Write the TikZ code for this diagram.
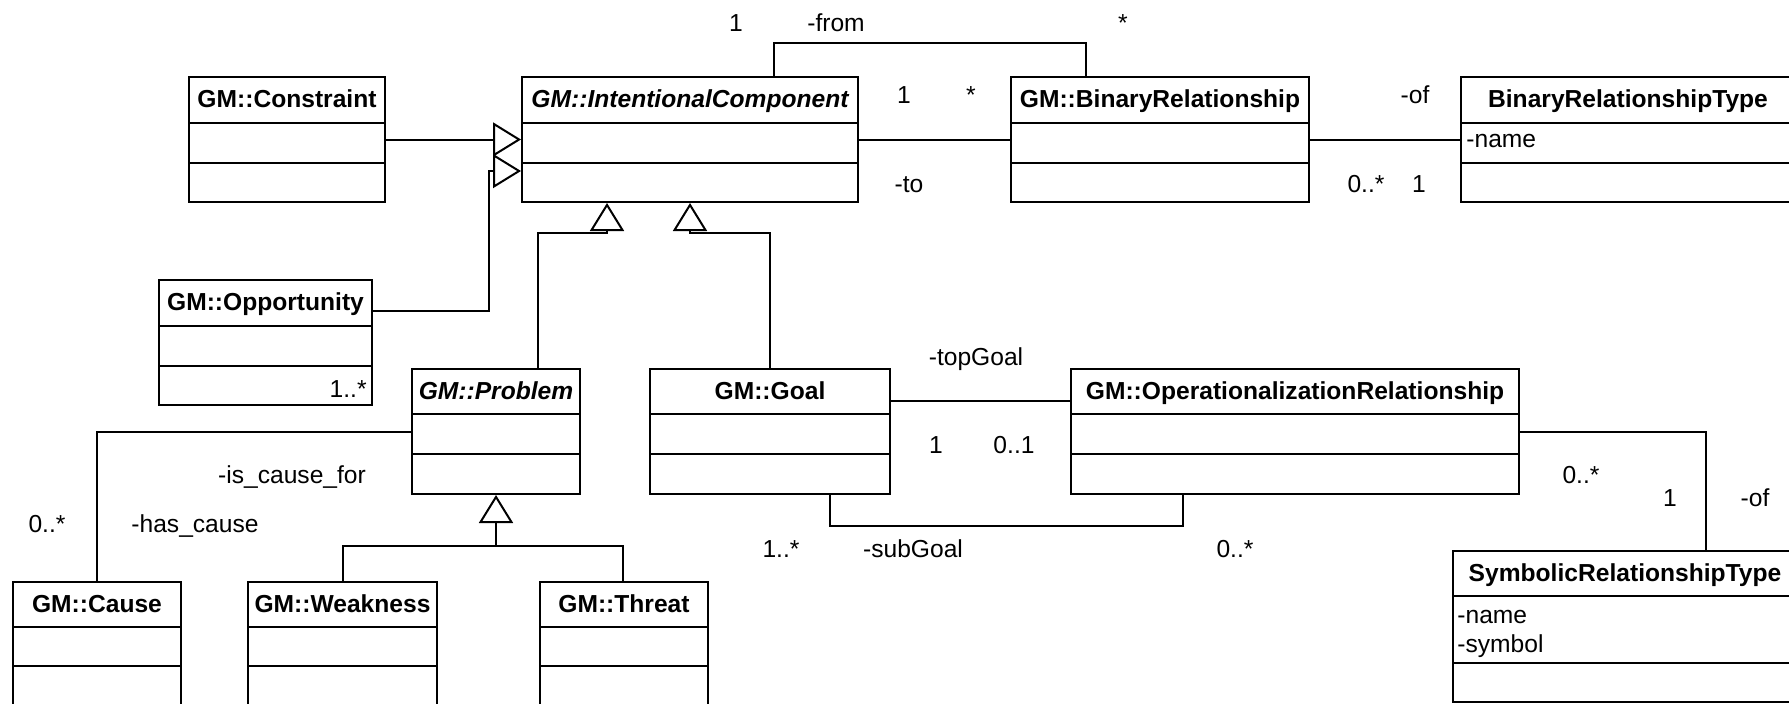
\documentclass[tikz,border=0pt]{standalone}
\usepackage{fontspec}
\setmainfont{Liberation Sans}
\usetikzlibrary{arrows.meta,fit}
\tikzset{
  umlline/.style={line width=1pt},
  gen/.style={umlline, -{Triangle[open,length=14pt,width=17pt,line join=miter]}},
  ctitle/.style={anchor=base, inner sep=0pt, font=\fontsize{12.3}{14}\selectfont\bfseries},
  atitle/.style={anchor=base, inner sep=0pt, font=\fontsize{12.3}{14}\selectfont\bfseries\itshape},
  lbl/.style={anchor=base, inner sep=0pt, font=\fontsize{12.3}{14}\selectfont},
  attr/.style={anchor=base west, inner sep=0pt, font=\fontsize{12.3}{14}\selectfont},
}
% #1 name, #2 title style, #3 x1, #4 y1, #5 x2, #6 header bottom, #7 attr bottom, #8 y2, #9 title
\newcommand\umlclass[9]{%
  \node[fit={(#3,#4) (#5,#8)}, inner sep=0pt, draw, umlline] (#1) {};
  \draw[umlline] (#3,#6) -- (#5,#6) (#3,#7) -- (#5,#7);
  \node[#2] (#1-t) at ({(#3+#5)/2},{#4+30}) {#9};
}
\begin{document}
\begin{tikzpicture}[x=0.5pt,y=-0.5pt]
\useasboundingbox (0,0) rectangle (1789,703);
\fill[white] (0,0) rectangle (1789,703);
\clip (0,0) rectangle (1789,703);

% classes
\umlclass{con}{ctitle}{189}{77}{385}{123}{163}{202}{GM::Constraint}
\umlclass{ic}{atitle}{522}{77}{858}{123}{163}{202}{GM::IntentionalComponent}
\umlclass{br}{ctitle}{1011}{77}{1309}{123}{163}{202}{GM::BinaryRelationship}
\umlclass{brt}{ctitle}{1461}{77}{1795}{123}{163}{202}{BinaryRelationshipType}
\umlclass{opp}{ctitle}{159}{280}{372}{326}{366}{405}{GM::Opportunity}
\umlclass{prob}{atitle}{412}{369}{580}{414}{454}{494}{GM::Problem}
\umlclass{goal}{ctitle}{650}{369}{890}{414}{454}{494}{GM::Goal}
\umlclass{or}{ctitle}{1071}{369}{1519}{414}{454}{494}{GM::OperationalizationRelationship}
\umlclass{cause}{ctitle}{13}{582}{181}{627}{666}{720}{GM::Cause}
\umlclass{weak}{ctitle}{248}{582}{437}{627}{666}{720}{GM::Weakness}
\umlclass{threat}{ctitle}{540}{582}{708}{627}{666}{720}{GM::Threat}
\umlclass{srt}{ctitle}{1453}{551}{1797}{596}{663}{702}{SymbolicRelationshipType}

% attributes
\node[attr] (brt-a1) at (1466,147) {-name};
\node[attr] (srt-a1) at (1457,623) {-name};
\node[attr] (srt-a2) at (1457,652) {-symbol};
\node[lbl, anchor=base east] (opp-m) at (367,397) {1..*};

% helper coordinates
\coordinate (f1) at (774,43);
\coordinate (f2) at (1086,43);
\coordinate (o1) at (489,311);
\coordinate (o2) at (489,171);
\coordinate (p1) at (538,233);
\coordinate (p2) at (607,233);
\coordinate (g1) at (770,233);
\coordinate (g2) at (690,233);
\coordinate (c1) at (97,432);
\coordinate (w1) at (343,546);
\coordinate (t1) at (623,546);
\coordinate (j1) at (496,546);
\coordinate (tg) at (980,401);
\coordinate (s1) at (830,526);
\coordinate (s2) at (1183,526);
\coordinate (r1) at (1706,432);

% associations
\draw[umlline] (ic.north -| f1) -- (f1) -- (f2) -- (br.north -| f2);
\draw[umlline] (ic.east) -- (br.west);
\draw[umlline] (br.east) -- (brt.west);
\draw[umlline] (prob.west |- c1) -- (c1) -- (cause.north -| c1);
\draw[umlline] (goal.east |- tg) -- (or.west |- tg);
\draw[umlline] (goal.south -| s1) -- (s1) -- (s2) -- (or.south -| s2);
\draw[umlline] (or.east |- r1) -- (r1) -- (srt.north -| r1);

% generalizations
\draw[gen] (con.east) -- (ic.west |- con.east);
\draw[gen] (opp.east |- o1) -- (o1) -- (o2) -- (ic.west |- o2);
\draw[gen] (prob.north -| p1) -- (p1) -- (p2) -- (ic.south -| p2);
\draw[gen] (goal.north -| g1) -- (g1) -- (g2) -- (ic.south -| g2);
\draw[umlline] (weak.north -| w1) -- (w1) -- (t1) -- (threat.north -| t1);
\draw[gen] (j1) -- (prob.south -| j1);

% labels
\node[lbl] (l1) at (736,31) {1};
\node[lbl] (l2) at (836,31) {-from};
\node[lbl] (l3) at (1123,31) {*};
\node[lbl] (l4) at (904,103) {1};
\node[lbl] (l5) at (971,103) {*};
\node[lbl] (l6) at (1415,103) {-of};
\node[lbl] (l7) at (909,192) {-to};
\node[lbl] (l8) at (1366,192) {0..*};
\node[lbl] (l9) at (1419,192) {1};
\node[lbl] (l10) at (976,365) {-topGoal};
\node[lbl] (l11) at (936,453) {1};
\node[lbl] (l12) at (1014,453) {0..1};
\node[lbl] (l13) at (292,483) {-is\_cause\_for};
\node[lbl] (l14) at (47,532) {0..*};
\node[lbl] (l15) at (195,532) {-has\_cause};
\node[lbl] (l16) at (781,557) {1..*};
\node[lbl] (l17) at (913,557) {-subGoal};
\node[lbl] (l18) at (1235,557) {0..*};
\node[lbl] (l19) at (1581,483) {0..*};
\node[lbl] (l20) at (1670,506) {1};
\node[lbl] (l21) at (1755,506) {-of};
\end{tikzpicture}
\end{document}
